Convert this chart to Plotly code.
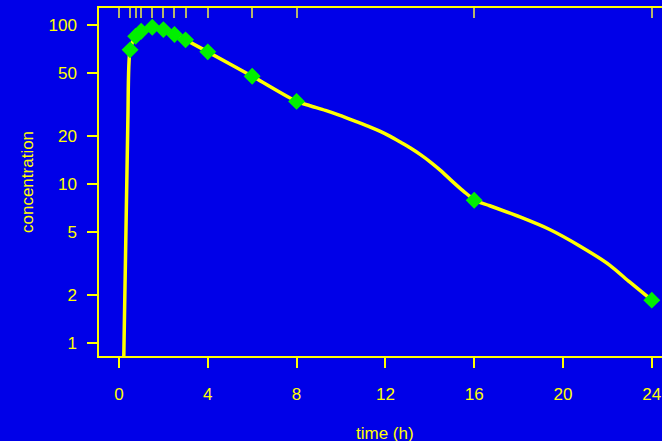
import plotly.graph_objects as go

# Observed samples (green diamonds)
sample_time = [0.5, 0.75, 1, 1.5, 2, 2.5, 3, 4, 6, 8, 16, 24]
sample_conc = [69.6, 84.7, 91.0, 96.4, 93.3, 86.8, 80.4, 67.6, 47.5, 33.0, 7.89, 1.86]

# Fitted/smoothed curve (yellow line)
curve_time = [0.2, 0.4, 0.5, 0.75, 1, 1.5, 2, 2.5, 3, 4, 6, 8, 8.6, 9.3, 9.95, 10.6,
              11.32, 11.77, 12.22, 12.67, 13.13, 13.58, 14.03, 14.48, 14.93, 15.38, 15.83,
              16, 16.7, 18.06, 19.4, 20.77, 22.1, 23.0, 24]
curve_conc = [0.6, 25, 69.6, 84.7, 91.0, 96.4, 93.3, 86.8, 80.4, 67.6, 47.5, 33.0, 31.0, 28.95, 26.94, 24.88,
              22.75, 21.38, 19.89, 18.32, 16.8, 15.27, 13.72, 12.17, 10.64, 9.34, 8.28,
              7.89, 7.29, 6.20, 5.17, 4.06, 3.09, 2.42, 1.86]

# Sampling times shown as rug ticks along the top
rug_time = [0, 0.5, 0.75, 1, 1.5, 2, 2.5, 3, 4, 6, 8, 16, 24]

x_ticks = [0, 4, 8, 12, 16, 20, 24]
y_ticks = [1, 2, 5, 10, 20, 50, 100]
y_ticktext = ["1", "2", "5", "10", "20", "50", "100"]

BG = "#0000E8"
YEL = "#FFFF00"
GRN = "#00F000"
RUG = "#B4B46E"
FONT = "Liberation Sans, Arial, sans-serif"

fig = go.Figure()
fig.add_trace(go.Scatter(x=curve_time, y=curve_conc, mode="lines",
                         line=dict(color=YEL, width=3.5, shape="spline", smoothing=0.7),
                         showlegend=False, hoverinfo="skip"))
fig.add_trace(go.Scatter(x=sample_time, y=sample_conc, mode="markers",
                         marker=dict(symbol="diamond", size=13, color=GRN,
                                     line=dict(width=0)),
                         showlegend=False, cliponaxis=False))
# invisible trace to anchor the top rug axis
fig.add_trace(go.Scatter(x=rug_time, y=[None] * len(rug_time), xaxis="x2",
                         mode="markers", showlegend=False, hoverinfo="skip"))

xr = [-0.9, 24.46]
fig.update_layout(
    width=662, height=441,
    margin=dict(l=99, r=0, t=8, b=85),
    paper_bgcolor=BG, plot_bgcolor=BG,
    font=dict(family=FONT, color=YEL, size=17),
    xaxis=dict(range=xr, tickvals=x_ticks, ticks="outside", ticklen=10,
               tickcolor=YEL, tickwidth=1.5, showgrid=False, zeroline=False,
               showline=True, linecolor=YEL, linewidth=1.5, mirror=True,
               tickfont=dict(size=17, color=YEL), ticklabelstandoff=12),
    xaxis2=dict(range=xr, overlaying="x", side="top", tickvals=rug_time,
                ticks="inside", ticklen=10, tickcolor=RUG, tickwidth=2,
                showticklabels=False, showgrid=False, zeroline=False,
                showline=False, anchor="y"),
    yaxis=dict(type="log", range=[-0.0816, 2.1055], tickvals=y_ticks,
               ticktext=y_ticktext, ticks="outside", ticklen=10,
               tickcolor=YEL, tickwidth=1.5, showgrid=False, zeroline=False,
               showline=True, linecolor=YEL, linewidth=1.5, mirror=False,
               tickfont=dict(size=17, color=YEL), ticklabelstandoff=7),
    annotations=[
        dict(text="time (h)", xref="paper", yref="paper", x=0.508, y=0,
             yshift=-66, xanchor="center", yanchor="top", showarrow=False,
             font=dict(size=17, color=YEL)),
        dict(text="concentration", xref="paper", yref="paper", x=0, y=0.5,
             xshift=-72, textangle=-90, xanchor="center", yanchor="middle",
             showarrow=False, font=dict(size=17, color=YEL)),
    ],
)

fig.write_html("out.html")
